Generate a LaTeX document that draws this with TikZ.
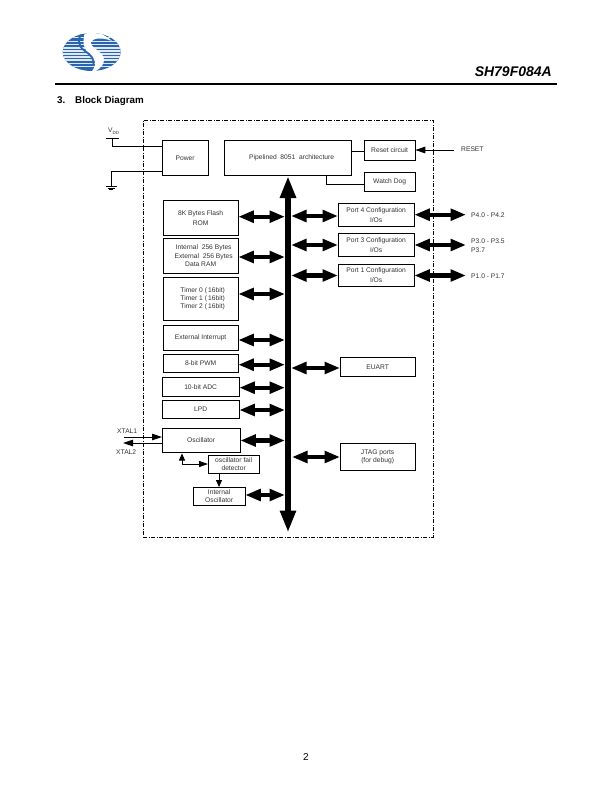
\documentclass[tikz,border=0pt]{standalone}
\usepackage{fontspec}
\setmainfont{Liberation Sans}
\usepackage{tikz}
\usetikzlibrary{arrows.meta}

\definecolor{logoblue}{HTML}{2A66B0}
\tikzset{
  block/.style={draw,line width=0.9pt,inner sep=0pt,outer sep=0pt,align=center,anchor=north west,font=\fontsize{6.7}{8.2}\selectfont,text=black!80},
  wide lines/.style={font=\fontsize{6.7}{9.8}\selectfont},
  lbl/.style={inner sep=0pt,align=left,font=\fontsize{6.7}{9}\selectfont,text=black!80},
  wire/.style={line width=0.9pt},
  thin arrow/.style={line width=0.9pt,-{Triangle[length=10pt,width=6.5pt]}},
  busarrow/.style={line width=4.3pt,{Triangle[length=15.5pt,width=11.5pt]}-{Triangle[length=15.5pt,width=11.5pt]}},
  mainbus/.style={line width=5.8pt,{Triangle[length=22pt,width=15pt]}-{Triangle[length=22pt,width=15pt]}},
}
% a block from its corners
\newcommand{\blockat}[7][]{\node[block,minimum width=#5pt-#3pt-0.7pt,minimum height=#6pt-#4pt-0.5pt,#1] (#2) at (#3,#4) {#7};}

\begin{document}
\begin{tikzpicture}[x=1pt,y=-1pt]
  \useasboundingbox (0,0) rectangle (612,792);
  \fill[white] (0,0) rectangle (612,792);

  % logo
  \begin{scope}
    \clip (91.7,52) ellipse [x radius=29,y radius=19];
    \fill[logoblue] (60,30) rectangle (125,75);
    \foreach \ypos in {37.2,40.6,44,47.4,50.4,53.4,56.4,59.4,62.6,66}
      \fill[white!85!logoblue] (60,\ypos) rectangle (125,\ypos+1.2);
    \fill[white] (86,30) .. controls (96,31) and (104,34) .. (112,41) .. controls (102,37) and (93,38) .. (91,42)
      .. controls (89,48) and (105,51) .. (104,61) .. controls (103,67) and (97,71) .. (90,74)
      .. controls (96,66) and (97,62) .. (92,57) .. controls (86,52) and (80,44) .. (86,30) -- cycle;
    \draw[logoblue,line width=1.8pt] (82,33) .. controls (77,40) and (78,46) .. (85,51)
      .. controls (91,55) and (95,59) .. (93,66);
  \end{scope}

  % page head
  \node[anchor=base east,inner sep=0pt,font=\fontsize{14}{16}\bfseries\itshape\selectfont] (partno) at (552,76) {SH79F084A};
  \coordinate (ruleleft) at (55,84);
  \coordinate (ruleright) at (557,84);
  \draw[line width=2pt] (ruleleft) -- (ruleright);
  \node[anchor=base west,inner sep=0pt,font=\fontsize{9.8}{11}\bfseries\selectfont] (secno) at (57,103) {3.};
  \node[anchor=base west,inner sep=0pt,font=\fontsize{9.8}{11}\bfseries\selectfont] (title) at (75,103) {Block Diagram};
  \node[inner sep=0pt,font=\fontsize{10}{12}\selectfont] (pageno) at (306,757) {2};

  % chip outline
  \node[draw,line width=0.9pt,dash pattern=on 4pt off 1.5pt on 1pt off 1.5pt,inner sep=0pt,outer sep=0pt,minimum width=290pt,minimum height=417pt,anchor=north west] (chip) at (143,120) {};

  % blocks
  \blockat{power}{162}{140}{209}{176}{Power}
  \blockat{cpu}{224}{140}{352}{176}{\hspace*{8pt}Pipelined\ \ 8051\ \ architecture}
  \blockat{resetc}{364}{140}{416}{161}{Reset circuit}
  \blockat{wdog}{364}{172}{416}{192}{Watch Dog}
  \blockat[wide lines]{rom}{163}{200}{239}{236}{8K Bytes Flash\\ROM}
  \blockat{ram}{163}{238}{239}{274}{\hspace*{6pt}Internal\ \ 256 Bytes\\\hspace*{6pt}External\ \ 256 Bytes\\Data RAM}
  \blockat{timer}{163}{277}{239}{321}{\hspace*{4pt}Timer 0 (\,16bit)\\\hspace*{4pt}Timer 1 (\,16bit)\\\hspace*{4pt}Timer 2 (\,16bit)}
  \blockat{extint}{163}{325}{239}{351}{External Interrupt}
  \blockat{pwm}{163}{354}{239}{373}{8-bit PWM}
  \blockat{adc}{162}{377}{240}{397}{10-bit ADC}
  \blockat{lpd}{162}{400}{240}{419}{LPD}
  \blockat{osc}{162}{428}{241}{453}{Oscillator}
  \blockat{fail}{208}{455}{260}{474}{oscillator fail\\detector}
  \blockat{intosc}{193}{487}{246}{506}{Internal\\Oscillator}
  \blockat[wide lines]{portf}{338}{203}{415}{227}{Port 4 Configuration\\I/Os}
  \blockat[wide lines]{portt}{338}{233}{415}{257}{Port 3 Configuration\\I/Os}
  \blockat[wide lines]{porto}{338}{264}{415}{287}{Port 1 Configuration\\I/Os}
  \blockat{euart}{340}{357}{416}{377}{EUART}
  \blockat{jtag}{340}{443}{416}{471}{JTAG ports\\(for debug)}

  % outside labels
  \node[lbl,anchor=west] (pf) at (471,215) {P4.0 - P4.2};
  \node[lbl,anchor=west] (pt) at (471,241) {P3.0 - P3.5};
  \node[lbl,anchor=west] (ptb) at (471,250) {P3.7};
  \node[lbl,anchor=west] (po) at (471,276) {P1.0 - P1.7};
  \node[lbl,anchor=west] (rst) at (461,149.5) {RESET};
  \node[lbl,anchor=west] (xa) at (117,431) {XTAL1};
  \node[lbl,anchor=west] (xb) at (116,452.5) {XTAL2};
  \node[lbl,anchor=west] (vdd) at (108,131) {V\raisebox{-2pt}{\fontsize{4.5}{4.5}\selectfont DD}};

  % main bus
  \coordinate (bustop) at (288,176);
  \coordinate (busbot) at (288,532.5);
  \coordinate (busl) at (285,300);
  \coordinate (busr) at (291,300);
  \draw[mainbus] (bustop) -- (busbot);

  % left side of the bus
  \draw[busarrow] (rom.east |- 0,216.7) -- (busl |- 0,216.7);
  \draw[busarrow] (ram.east |- 0,257) -- (busl |- 0,257);
  \draw[busarrow] (timer.east |- 0,294) -- (busl |- 0,294);
  \draw[busarrow] (extint.east |- 0,340) -- (busl |- 0,340);
  \draw[busarrow] (pwm.east |- 0,364.7) -- (busl |- 0,364.7);
  \draw[busarrow] (adc.east |- 0,387.7) -- (busl |- 0,387.7);
  \draw[busarrow] (lpd.east |- 0,410) -- (busl |- 0,410);
  \draw[busarrow] (osc.east |- 0,440.5) -- (busl |- 0,440.5);
  \draw[busarrow] (intosc.east |- 0,495) -- (busl |- 0,495);

  % right side of the bus
  \draw[busarrow] (portf.west |- 0,216) -- (busr |- 0,216);
  \draw[busarrow] (portt.west |- 0,245) -- (busr |- 0,245);
  \draw[busarrow] (porto.west |- 0,275.5) -- (busr |- 0,275.5);
  \draw[busarrow] (euart.west |- 0,368) -- (busr |- 0,368);
  \draw[busarrow] (jtag.west |- 0,457) -- ([xshift=1pt]busr |- 0,457);

  % port pins
  \coordinate (pinend) at (466,300);
  \draw[busarrow] (portf.east |- 0,214.7) -- (pinend |- 0,214.7);
  \draw[busarrow] (portt.east |- 0,245) -- (pinend |- 0,245);
  \draw[busarrow] (porto.east |- 0,275.5) -- (pinend |- 0,275.5);

  % supply
  \coordinate (vbar) at (112,138);
  \draw[wire] (106,138) -- (119,138);
  \draw[wire] (vbar) |- (power.west |- 0,146);
  \coordinate (gnd) at (111,186);
  \draw[wire] (power.west |- 0,171) -| (gnd);
  \draw[wire] (105.5,186) -- (117,186);
  \draw[wire] (107.5,188) -- (115,188);
  \draw[wire] (109,189.7) -- (113,189.7);

  % small connectors
  \draw[wire] (cpu.east |- 0,151) -- (resetc.west |- 0,151);
  \draw[wire] (326,176) |- (wdog.west |- 0,184);
  \coordinate (rstend) at (454,150);
  \draw[thin arrow] (rstend) -- (resetc.east |- rstend);
  \coordinate (xain) at (124,437);
  \coordinate (xbout) at (123,443);
  \draw[thin arrow] (xain) -- (osc.west |- xain);
  \draw[thin arrow] (osc.west |- xbout) -- (xbout);
  \draw[line width=0.9pt,{Triangle[length=7pt,width=6pt]}-{Triangle[length=9pt,width=6pt]}] (182,453.5) |- (fail.west |- 0,464);
  \draw[line width=0.9pt,-{Triangle[length=7pt,width=6pt]}] (219,474) -- (219,487);
\end{tikzpicture}
\end{document}
